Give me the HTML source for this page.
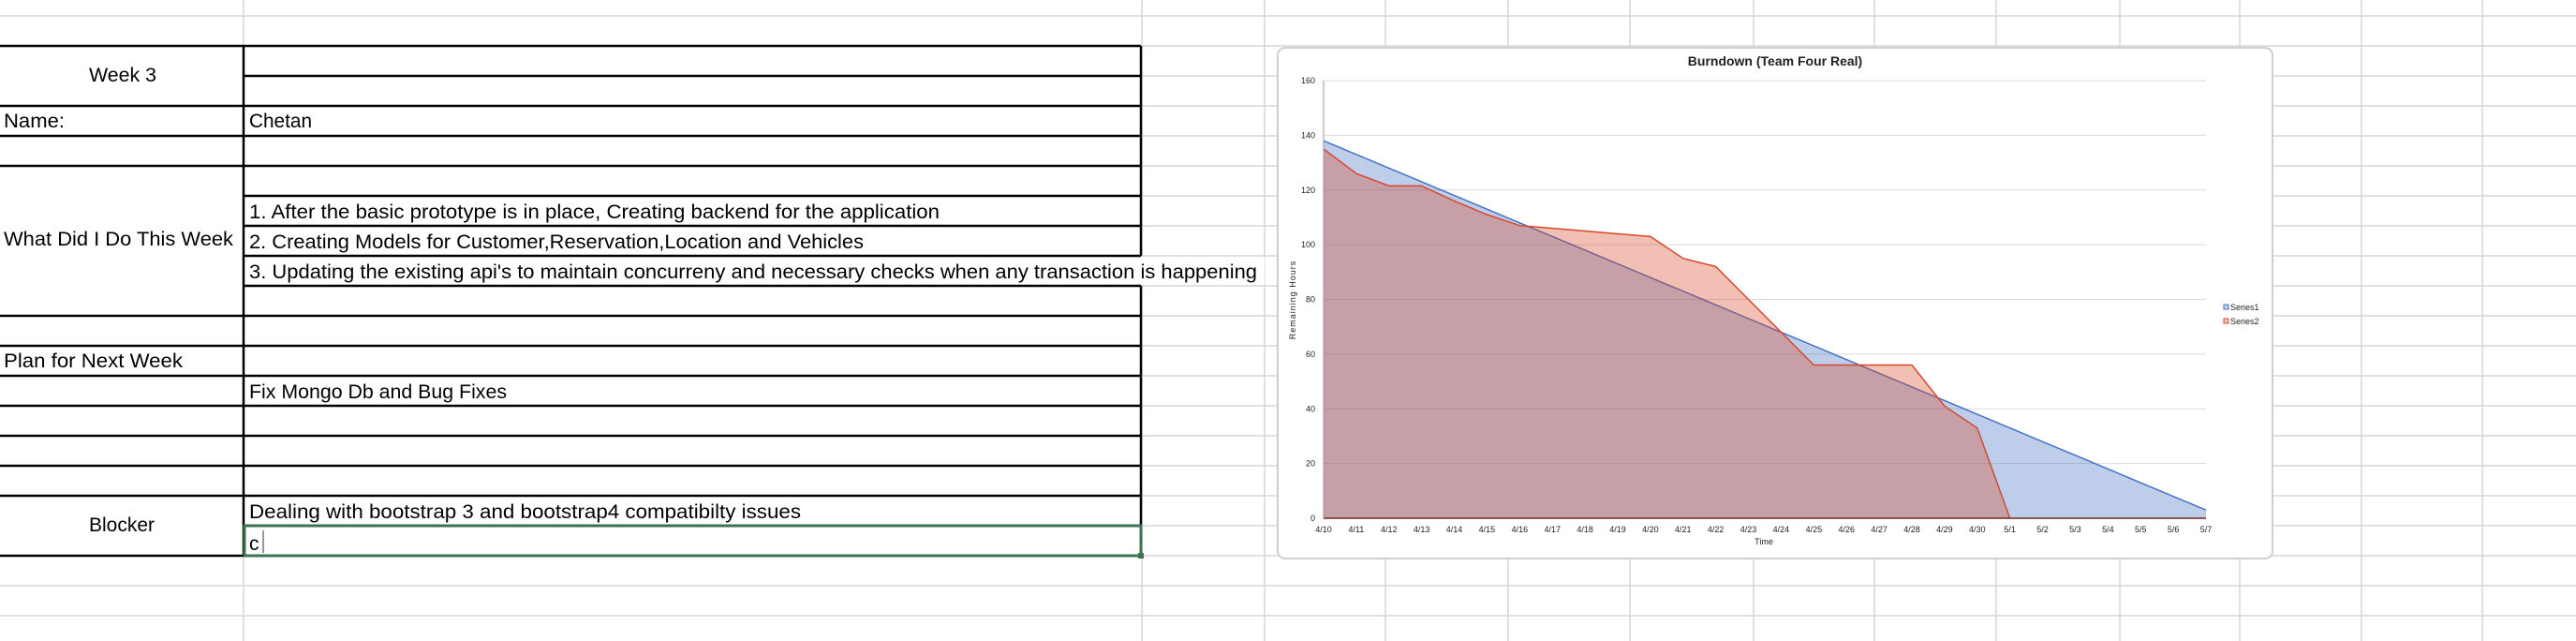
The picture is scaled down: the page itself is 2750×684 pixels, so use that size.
<!DOCTYPE html>
<html><head><meta charset="utf-8"><style>
html,body{margin:0;padding:0;background:#fff;}
svg{display:block;}
.t{font-family:"Liberation Sans Narrow","Liberation Sans",sans-serif;font-size:21px;fill:#000;}
.c{font-family:"Liberation Sans",sans-serif;fill:#222;}
</style></head><body>
<svg id="page" width="2750" height="684" viewBox="0 0 2750 684" xmlns="http://www.w3.org/2000/svg">
<g id="grid"></g>
<g id="table"></g>
<g>
<text class="t" lengthAdjust="spacingAndGlyphs" x="95" y="87" textLength="72">Week 3</text>
<text class="t" lengthAdjust="spacingAndGlyphs" x="4" y="136" textLength="65">Name:</text>
<text class="t" lengthAdjust="spacingAndGlyphs" x="266" y="136" textLength="67">Chetan</text>
<text class="t" lengthAdjust="spacingAndGlyphs" x="4" y="262" textLength="245">What Did I Do This Week</text>
<text class="t" lengthAdjust="spacingAndGlyphs" x="266" y="233" textLength="737">1. After the basic prototype is in place, Creating backend for the application</text>
<text class="t" lengthAdjust="spacingAndGlyphs" x="266" y="265" textLength="656">2. Creating Models for Customer,Reservation,Location and Vehicles</text>
<text class="t" lengthAdjust="spacingAndGlyphs" x="266" y="297" textLength="1076">3. Updating the existing api's to maintain concurreny and necessary checks when any transaction is happening</text>
<text class="t" lengthAdjust="spacingAndGlyphs" x="4" y="392" textLength="191">Plan for Next Week</text>
<text class="t" lengthAdjust="spacingAndGlyphs" x="266" y="425" textLength="275">Fix Mongo Db and Bug Fixes</text>
<text class="t" lengthAdjust="spacingAndGlyphs" x="95" y="567" textLength="70">Blocker</text>
<text class="t" lengthAdjust="spacingAndGlyphs" x="266" y="553" textLength="589">Dealing with bootstrap 3 and bootstrap4 compatibilty issues</text>
<text class="t" x="266" y="587">c</text>
<line x1="281" y1="566" x2="281" y2="590" stroke="#333" stroke-width="1"/>
</g>
<rect x="261" y="561" width="957" height="32" fill="none" stroke="#3e7150" stroke-width="3"/>
<rect x="1215" y="590" width="6" height="6" fill="#3e7150"/>
<g id="chart">
<rect x="1364" y="51" width="1062" height="545" rx="8" fill="#fff" stroke="#cfcfcf" stroke-width="2"/>
<text class="c" x="1895" y="70" font-size="14" font-weight="bold" text-anchor="middle" fill="#000">Burndown (Team Four Real)</text>
<text class="c" x="0" y="0" font-size="9" text-anchor="middle" transform="translate(1383,320) rotate(-90)" letter-spacing="1">Remaining Hours</text>
<text class="c" x="1883" y="581" font-size="9" text-anchor="middle">Time</text>
<g id="plot"></g>
<g>
<rect x="2374" y="325" width="5" height="5" fill="#c3d0ec" stroke="#4472c4"/>
<text class="c" x="2381" y="331" font-size="9">Series1</text>
<rect x="2374" y="340" width="5" height="5" fill="#eec3b6" stroke="#d9472b"/>
<text class="c" x="2381" y="346" font-size="9">Series2</text>
</g>
</g>
</svg>
<script>
const categories = ["4/10","4/11","4/12","4/13","4/14","4/15","4/16","4/17","4/18","4/19","4/20","4/21","4/22","4/23","4/24","4/25","4/26","4/27","4/28","4/29","4/30","5/1","5/2","5/3","5/4","5/5","5/6","5/7"];
const series1 = [138,133,128,123,118,113,108,103,98,93,88,83,78,73,68,63,58,53,48,43,38,33,28,23,18,13,8,3];
const series2 = [135,126,121.5,121.5,116,111,107,106,105,104,103,95,92,80,68,56,56,56,56,41,33,0,null,null,null,null,null,null];
const yTicks = [0,20,40,60,80,100,120,140,160];

const NS = "http://www.w3.org/2000/svg";
function mk(tag, attrs, parent){const e=document.createElementNS(NS,tag);for(const k in attrs)e.setAttribute(k,attrs[k]);parent.appendChild(e);return e;}

const grid=document.getElementById('grid');
for(let y=17;y<=684;y+=32){
  const l=mk('line',{x1:0,y1:y,x2:2750,y2:y,stroke:'#d6d6d6','stroke-width':1.5},grid);
  
  
}
[260,1219,1350,1479,1610,1740,1872,2001,2131,2263,2391,2521,2650].forEach(x=>{
  const l=mk('line',{x1:x,y1:0,x2:x,y2:684,stroke:'#d6d6d6','stroke-width':1.5},grid);
  
  
});

const tbl=document.getElementById('table');
const rows=[49,81,113,145,177,209,241,273,305,337,369,401,433,465,497,529,561,593];
const white=mk('rect',{x:0,y:49,width:1218,height:544,fill:'#fff'},tbl);


const ov=mk('rect',{x:1218,y:274,width:132,height:30,fill:'#fff'},tbl);


const leftLines=[49,113,145,177,337,369,401,433,465,497,529,593];
leftLines.forEach(y=>{const l=mk('line',{x1:0,y1:y,x2:260,y2:y,stroke:'#000','stroke-width':2.5},tbl);
  
  });
rows.forEach(y=>{const l=mk('line',{x1:260,y1:y,x2:1218,y2:y,stroke:'#000','stroke-width':2.5},tbl);
  
  });
[[260,49,593],[1218,49,273],[1218,305,561]].forEach(v=>{const l=mk('line',{x1:v[0],y1:v[1],x2:v[0],y2:v[2],stroke:'#000','stroke-width':2.5},tbl);
  
  });

const plot=document.getElementById('plot');
const X0=1413,X1=2355,Y0=553,Y1=86;
const xs=i=>X0+(X1-X0)*i/(categories.length-1);
const ys=v=>Y0-(Y0-Y1)*v/160;
yTicks.forEach(t=>{
  const g=mk('line',{x1:X0,y1:ys(t),x2:X1,y2:ys(t),stroke:'#d9d9d9','stroke-width':1},plot);
  
  
  const tx=mk('text',{x:1404,y:ys(t)+3,'font-size':9,'text-anchor':'end',class:'c'},plot);
  tx.textContent=t;
  
  
});
categories.forEach((c,i)=>{
  const tx=mk('text',{x:xs(i),y:568,'font-size':9,'text-anchor':'middle',class:'c'},plot);
  tx.textContent=c;
  
  
});
function area(vals,fill,stroke,name){
  const pts=[];vals.forEach((v,i)=>{if(v!==null)pts.push([xs(i),ys(v)]);});
  const last=pts[pts.length-1][0];
  const d='M'+pts[0][0]+','+Y0+' '+pts.map(p=>'L'+p[0]+','+p[1]).join(' ')+' L'+last+','+Y0+' Z';
  const a=mk('path',{d:d,fill:fill,'fill-opacity':0.35,stroke:'none'},plot);
  
  
  const l=mk('path',{d:'M'+pts.map(p=>p[0]+','+p[1]).join(' L'),fill:'none',stroke:stroke,'stroke-width':1.5},plot);
  
  
}
area(series1,'#4472c4','#4472c4','series1');
area(series2,'#d9472b','#d9472b','series2');
const ax=mk('line',{x1:X0,y1:Y0,x2:X1,y2:Y0,stroke:'#6b2a22','stroke-width':1.5},plot);


const ay=mk('line',{x1:X0,y1:Y1,x2:X0,y2:Y0,stroke:'#999','stroke-width':1},plot);


</script>
</body></html>
